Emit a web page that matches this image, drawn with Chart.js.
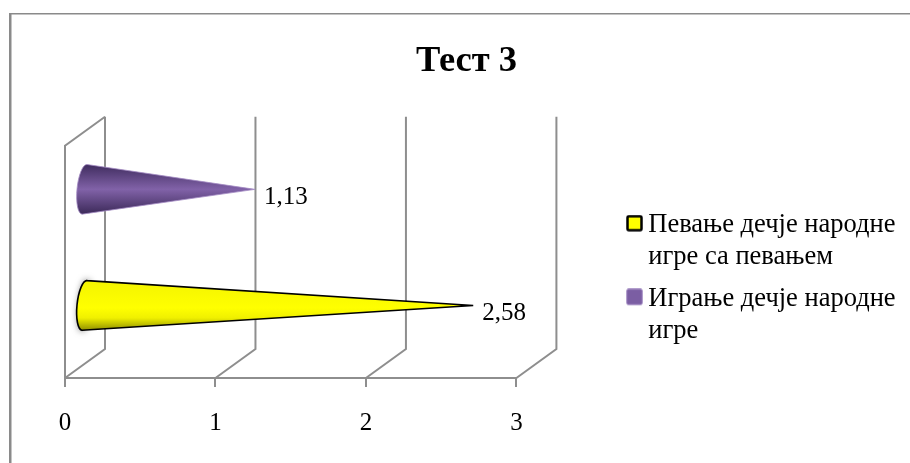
<!DOCTYPE html>
<html>
<head>
<meta charset="utf-8">
<title>Тест 3</title>
<style>
html, body { margin: 0; padding: 0; background: #fff; }
#wrap { width: 910px; height: 463px; }
</style>
<script src="https://cdn.jsdelivr.net/npm/chart.js@4/dist/chart.umd.min.js"></script>
</head>
<body>
<div id="wrap"><canvas id="myChart" width="910" height="463"></canvas></div>
<script>
var chartTitle = 'Тест 3';
var categories = [''];
var seriesNames = [
    ['Певање дечје народне', 'игре са певањем'],
    ['Играње дечје народне', 'игре']
];
var singingValues = [2.58];
var danceValues = [1.13];
var tickValues = [0, 1, 2, 3];

var serif = '"Liberation Serif", "Times New Roman", serif';
var gray = '#8e8e8e';
var depthX = 40, depthY = -29;

// frame of the original picture: only top and left edges are visible
var framePlugin = {
    id: 'frame',
    beforeDraw: function(chart) {
        var ctx = chart.ctx;
        ctx.save();
        ctx.fillStyle = '#fff';
        ctx.fillRect(0, 0, chart.width, chart.height);
        ctx.fillStyle = '#8a8a8a';
        ctx.fillRect(9, 13, chart.width - 9, 1.5);
        ctx.fillRect(9, 13, 2.5, chart.height - 13);
        ctx.restore();
    }
};

// back wall, side wall and floor lines of the 3d box
var wallsPlugin = {
    id: 'walls',
    beforeDatasetsDraw: function(chart) {
        var ctx = chart.ctx, xs = chart.scales.x, area = chart.chartArea;
        ctx.save();
        ctx.strokeStyle = gray;
        ctx.lineWidth = 2;
        tickValues.forEach(function(v) {
            var px = xs.getPixelForValue(v);
            ctx.beginPath();
            ctx.moveTo(px, area.bottom);
            ctx.lineTo(px + depthX, area.bottom + depthY);
            ctx.lineTo(px + depthX, area.top + depthY);
            ctx.stroke();
        });
        ctx.beginPath();
        ctx.moveTo(area.left, area.bottom);
        ctx.lineTo(area.left, area.top);
        ctx.lineTo(area.left + depthX, area.top + depthY);
        ctx.stroke();
        ctx.restore();
    }
};

// each bar is drawn as a cone lying in the middle of the box depth
function drawCone(ctx, bar, look) {
    var cy = bar.y + depthY / 2;
    var tipX = bar.x + depthX / 2;
    var cx = bar.base + depthX / 2 - 1.5;
    var ry = bar.height * 0.215;
    var rx = 7.5;
    var tilt = 0.1;

    function path() {
        ctx.beginPath();
        ctx.moveTo(tipX, cy);
        ctx.ellipse(cx, cy, rx, ry, tilt, -Math.PI / 2, Math.PI / 2, true);
        ctx.closePath();
    }

    var grad = ctx.createLinearGradient(0, cy - ry, 0, cy + ry);
    look.stops.forEach(function(s) { grad.addColorStop(s[0], s[1]); });

    ctx.save();
    if (look.glow) {
        ctx.save();
        ctx.shadowColor = 'rgba(0,0,0,0.65)';
        ctx.shadowBlur = 7;
        ctx.fillStyle = '#777';
        ctx.beginPath();
        ctx.ellipse(cx, cy, rx - 2, ry + 1, tilt, 0, Math.PI * 2);
        ctx.fill();
        ctx.restore();
    }
    path();
    ctx.fillStyle = grad;
    ctx.fill();
    ctx.lineJoin = 'miter';
    ctx.strokeStyle = look.line;
    ctx.lineWidth = look.lineWidth;
    ctx.stroke();
    ctx.restore();
}

var coneLooks = [
    {
        stops: [[0, '#f4f400'], [0.55, '#ffff00'], [0.75, '#f0f000'], [1, '#8f8f00']],
        line: '#000',
        lineWidth: 1.6,
        glow: true
    },
    {
        stops: [[0, '#3f2c5e'], [0.5, '#8162a8'], [1, '#3b2958']],
        line: '#a48cc4',
        lineWidth: 0.8,
        glow: false
    }
];

var conePlugin = {
    id: 'cones',
    beforeDatasetDraw: function(chart, args) {
        var ctx = chart.ctx;
        args.meta.data.forEach(function(bar) {
            drawCone(ctx, bar, coneLooks[args.index]);
        });
        return false;
    },
    afterDatasetsDraw: function(chart) {
        var ctx = chart.ctx;
        ctx.save();
        ctx.fillStyle = '#000';
        ctx.font = '25px ' + serif;
        ctx.textAlign = 'left';
        ctx.textBaseline = 'middle';
        chart.data.datasets.forEach(function(ds, i) {
            chart.getDatasetMeta(i).data.forEach(function(bar, j) {
                var text = ds.data[j].toFixed(2).replace('.', ',');
                ctx.fillText(text, bar.x + depthX / 2 + 9, bar.y + depthY / 2 + 8);
            });
        });
        ctx.restore();
    }
};

// legend and title sit further right than the layout would place them
var moveBlocksPlugin = {
    id: 'moveBlocks',
    afterLayout: function(chart) {
        var lg = chart.legend;
        var w = lg.width, h = lg.height;
        lg.left = 624;
        lg.right = lg.left + w;
        lg.top = 202;
        lg.bottom = lg.top + h;
        chart.titleBlock.left += 35;
        chart.titleBlock.right += 35;
    }
};

// legend keys as small pictures, so the key can be wider than its slot next to the text
function legendKey(fill, line, lineWidth) {
    var c = document.createElement('canvas');
    c.width = 17;
    c.height = 21;
    var g = c.getContext('2d');
    g.fillStyle = fill;
    g.strokeStyle = line;
    g.lineWidth = lineWidth;
    g.lineJoin = 'round';
    var off = lineWidth / 2 + 0.25;
    g.beginPath();
    g.roundRect(off, off, 17 - 2 * off, 17 - 2 * off, 1.5);
    g.fill();
    g.stroke();
    return c;
}
var legendKeys = [
    legendKey('#ffff00', '#000', 2.5),
    legendKey('#7b5ea3', '#a48cc4', 1)
];

Chart.defaults.animation = false;

new Chart(document.getElementById('myChart').getContext('2d'), {
    type: 'bar',
    data: {
        labels: categories,
        datasets: [
            // order puts the first series at the bottom of the category
            { label: seriesNames[0], data: singingValues, order: 1, backgroundColor: '#ffff00', borderColor: '#000', borderWidth: 2.5 },
            { label: seriesNames[1], data: danceValues, order: 0, backgroundColor: '#7b5ea3', borderColor: '#a48cc4', borderWidth: 1 }
        ]
    },
    options: {
        indexAxis: 'y',
        responsive: false,
        layout: { padding: { left: 65, right: 112, top: 10, bottom: 4 } },
        datasets: { bar: { categoryPercentage: 1, barPercentage: 1 } },
        scales: {
            x: {
                min: 0,
                max: 3,
                afterBuildTicks: function(axis) {
                    axis.ticks = tickValues.map(function(v) { return { value: v }; });
                },
                grid: { drawOnChartArea: false, color: gray, lineWidth: 2, tickLength: 9 },
                border: { color: gray, width: 2 },
                ticks: { color: '#000', font: { family: serif, size: 25 }, padding: 21, maxRotation: 0 }
            },
            y: { display: false }
        },
        plugins: {
            title: {
                display: true,
                text: chartTitle,
                color: '#000',
                font: { family: serif, size: 36.5, weight: 'bold' },
                padding: { top: 30, bottom: 62 }
            },
            legend: {
                position: 'right',
                align: 'start',
                labels: {
                    color: '#000',
                    font: { family: serif, size: 26.5, lineHeight: 1.2 },
                    usePointStyle: true,
                    pointStyleWidth: 1,
                    boxHeight: 15,
                    padding: 10,
                    generateLabels: function(chart) {
                        var items = Chart.defaults.plugins.legend.labels.generateLabels(chart);
                        items.sort(function(a, b) { return a.datasetIndex - b.datasetIndex; });
                        items.forEach(function(item) { item.pointStyle = legendKeys[item.datasetIndex]; });
                        return items;
                    }
                }
            },
            tooltip: { enabled: false }
        }
    },
    plugins: [framePlugin, wallsPlugin, conePlugin, moveBlocksPlugin]
});
</script>
</body>
</html>
